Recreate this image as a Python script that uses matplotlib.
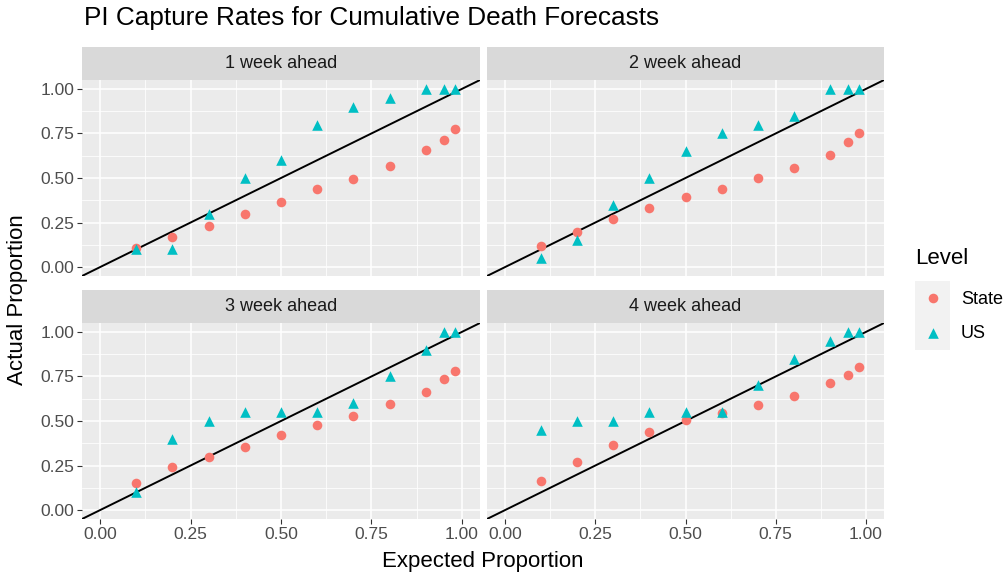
import numpy as np
import matplotlib as mpl
mpl.use('Agg')
import matplotlib.pyplot as plt

plt.rcParams['font.family'] = ['Liberation Sans', 'DejaVu Sans']

expected = [0.1, 0.2, 0.3, 0.4, 0.5, 0.6, 0.7, 0.8, 0.9, 0.95, 0.98]
horizons = ["1 week ahead", "2 week ahead", "3 week ahead", "4 week ahead"]

state_1 = [0.105, 0.17, 0.232, 0.298, 0.367, 0.44, 0.492, 0.569, 0.657, 0.715, 0.775]
us_1 = [0.10, 0.10, 0.30, 0.50, 0.60, 0.80, 0.90, 0.95, 1.0, 1.0, 1.0]
state_2 = [0.116, 0.195, 0.27, 0.333, 0.395, 0.436, 0.502, 0.554, 0.627, 0.704, 0.753]
us_2 = [0.05, 0.15, 0.35, 0.50, 0.65, 0.75, 0.80, 0.85, 1.0, 1.0, 1.0]
state_3 = [0.151, 0.24, 0.30, 0.356, 0.419, 0.475, 0.527, 0.596, 0.663, 0.736, 0.78]
us_3 = [0.10, 0.40, 0.50, 0.55, 0.55, 0.55, 0.60, 0.75, 0.90, 1.0, 1.0]
state_4 = [0.162, 0.272, 0.365, 0.436, 0.503, 0.547, 0.59, 0.639, 0.712, 0.758, 0.804]
us_4 = [0.45, 0.50, 0.50, 0.55, 0.55, 0.55, 0.70, 0.85, 0.95, 1.0, 1.0]

state = [state_1, state_2, state_3, state_4]
us = [us_1, us_2, us_3, us_4]

RED = "#F8766D"
TEAL = "#00BFC4"
W, H = 1007, 573

fig = plt.figure(figsize=(W / 100, H / 100), dpi=100)


def box(x0, y0, x1, y1):
    # pixel box (top-left origin) -> figure fraction
    return [x0 / W, 1 - y1 / H, (x1 - x0) / W, (y1 - y0) / H]


cols = [(82, 480), (487, 884)]
rows = [(47, 80, 276), (290, 323, 519)]
ticks = [0, 0.25, 0.5, 0.75, 1.0]
labels = ["0.00", "0.25", "0.50", "0.75", "1.00"]
minor = [0.125, 0.375, 0.625, 0.875]

for i in range(4):
    r, c = divmod(i, 2)
    x0, x1 = cols[c]
    s0, y0, y1 = rows[r]
    ax = fig.add_axes(box(x0, y0, x1, y1))
    ax.set_facecolor("#EBEBEB")
    for sp in ax.spines.values():
        sp.set_visible(False)
    ax.set_xlim(-0.05, 1.05)
    ax.set_ylim(-0.05, 1.05)
    ax.set_xticks(ticks)
    ax.set_yticks(ticks)
    ax.set_xticks(minor, minor=True)
    ax.set_yticks(minor, minor=True)
    ax.grid(which="major", color="white", lw=1.1)
    ax.grid(which="minor", color="white", lw=0.55)
    ax.set_axisbelow(True)
    ax.tick_params(which="minor", length=0)
    ax.tick_params(which="major", length=3.5, width=0.8, color="#333333",
                   labelsize=12.5, labelcolor="#4D4D4D", pad=2)
    if c == 0:
        ax.set_yticklabels(labels)
    else:
        ax.set_yticklabels([])
        ax.tick_params(axis="y", length=0)
    if r == 1:
        ax.set_xticklabels(labels)
    else:
        ax.set_xticklabels([])
        ax.tick_params(axis="x", length=0)

    ax.axline((0, 0), slope=1, color="black", lw=1.4, zorder=2)
    ax.scatter(expected, state[i], s=48, color=RED, marker="o", lw=0, zorder=3)
    ax.scatter(expected, us[i], s=58, color=TEAL, marker="^", lw=0, zorder=3)

    sax = fig.add_axes(box(x0, s0, x1, y0))
    sax.set_facecolor("#D9D9D9")
    sax.set_xticks([])
    sax.set_yticks([])
    for sp in sax.spines.values():
        sp.set_visible(False)
    sax.text(0.5, 0.5, horizons[i], ha="center", va="center",
             fontsize=13, color="#1A1A1A", transform=sax.transAxes)

fig.text(84 / W, 1 - 18 / H, "PI Capture Rates for Cumulative Death Forecasts",
         fontsize=18.8, ha="left", va="center", color="black")
fig.text(483 / W, 1 - 562 / H, "Expected Proportion", fontsize=16,
         ha="center", va="center")
fig.text(18 / W, 1 - 300 / H, "Actual Proportion", fontsize=16,
         ha="center", va="center", rotation=90)

# legend
fig.text(915 / W, 1 - 259 / H, "Level", fontsize=16, ha="left", va="center")
lax = fig.add_axes(box(915, 281, 950, 350))
lax.set_facecolor("#F2F2F2")
lax.set_xlim(0, 1)
lax.set_ylim(0, 2)
lax.set_xticks([])
lax.set_yticks([])
for sp in lax.spines.values():
    sp.set_visible(False)
lax.scatter([0.5], [1.5], s=48, color=RED, marker="o", lw=0)
lax.scatter([0.5], [0.5], s=58, color=TEAL, marker="^", lw=0)
fig.text(961 / W, 1 - 299 / H, "State", fontsize=13, ha="left", va="center")
fig.text(961 / W, 1 - 334 / H, "US", fontsize=13, ha="left", va="center")

fig.savefig("out.png", dpi=100)
